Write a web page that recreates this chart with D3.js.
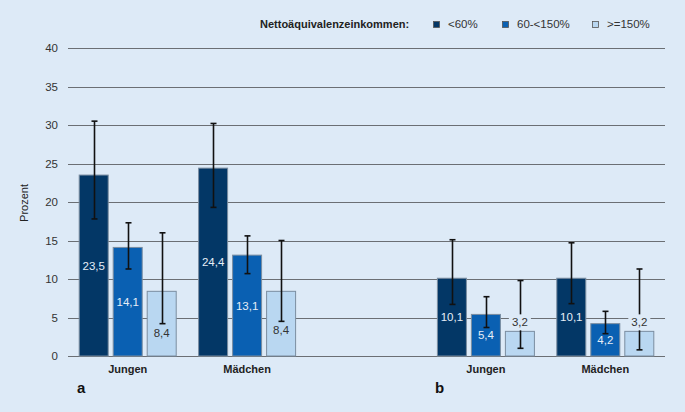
<!DOCTYPE html>
<html><head><meta charset="utf-8">
<script src="https://cdn.jsdelivr.net/npm/d3@7"></script>
<style>body{margin:0;background:#ddeaf7;}svg{display:block;font-family:"Liberation Sans",Arial,sans-serif;}</style>
</head><body>
<script>
const categories = ["Jungen","Mädchen","","Jungen","Mädchen"];
const panelLabels = ["a","b"];
const seriesNames = ["<60%","60-<150%",">=150%"];
const legendTitle = "Nettoäquivalenzeinkommen:";
const yTicks = [0,5,10,15,20,25,30,35,40];
// values per series across categories (empty slot = null)
const low60 = [23.5, 24.4, null, 10.1, 10.1];
const mid150 = [14.1, 13.1, null, 5.4, 4.2];
const high150 = [8.4, 8.4, null, 3.2, 3.2];
const low60Lo = [17.8, 19.3, null, 6.7, 6.8];
const low60Hi = [30.5, 30.2, null, 15.1, 14.7];
const mid150Lo = [11.3, 10.7, null, 3.7, 2.9];
const mid150Hi = [17.3, 15.6, null, 7.7, 5.8];
const high150Lo = [4.2, 4.5, null, 1.0, 0.8];
const high150Hi = [16.0, 15.0, null, 9.8, 11.3];

const W=685,H=412;
const colors=["#033766","#0a60b2","#b9d7f1"];
const textColors=["#e6eef7","#e6eef7","#333"];
const svg=d3.select("body").append("svg").attr("width",W).attr("height",H);
svg.append("rect").attr("width",W).attr("height",H).attr("fill","#ddeaf7");

const x=d3.scaleBand().domain(d3.range(categories.length)).range([68,665]).paddingInner(0).paddingOuter(0);
const y=d3.scaleLinear().domain([0,40]).range([356,48]);
const barW=30, gap=4;

// grid
svg.append("g").selectAll("line").data(yTicks).join("line")
 .attr("x1",68).attr("x2",665).attr("y1",d=>Math.round(y(d))+0.5).attr("y2",d=>Math.round(y(d))+0.5)
 .attr("stroke","#6b6f74").attr("stroke-width",1);
const yAxis=d3.axisLeft(y).tickValues(yTicks).tickSize(0).tickPadding(10);
const ga=svg.append("g").attr("transform","translate(68,0)").call(yAxis);
ga.select(".domain").remove();
ga.selectAll("text").attr("font-size",11.5).attr("fill","#333").attr("font-family","Liberation Sans, Arial, sans-serif");

svg.append("text").attr("transform","translate(28,203) rotate(-90)").attr("text-anchor","middle")
 .attr("font-size",11).attr("fill","#222").text("Prozent");

const series=[
 {v:low60,lo:low60Lo,hi:low60Hi},
 {v:mid150,lo:mid150Lo,hi:mid150Hi},
 {v:high150,lo:high150Lo,hi:high150Hi}];

series.forEach((s,si)=>{
  const g=svg.append("g");
  const data=s.v.map((v,i)=>({i,v,lo:s.lo[i],hi:s.hi[i]})).filter(d=>d.v!=null);
  const bx=d=>x(d.i)+x.bandwidth()/2-(1.5*barW+gap)+si*(barW+gap);
  g.selectAll("rect").data(data).join("rect")
   .attr("x",d=>bx(d)+0.5).attr("y",d=>y(d.v)).attr("width",barW-1).attr("height",d=>y(0)-y(d.v))
   .attr("fill",colors[si]).attr("stroke","#7b8da0").attr("stroke-width",1);
  data.forEach(d=>{
    const cx=bx(d)+barW/2;
    let ly;
    if(si<2) ly=(y(d.v)+y(0))/2;
    else if(y(0)-y(d.v)>40) ly=y(d.lo)+9;
    else ly=y(d.v)-9;
    if(si===2 && y(0)-y(d.v)<=40){
      svg.append("rect").attr("x",cx-11).attr("y",ly-7).attr("width",22).attr("height",14).attr("fill","#ddeaf7");
    }
    d.lx=cx; d.ly=ly;
  });
  data.forEach(d=>{
    const cx=Math.round(bx(d)+barW/2)+0.5;
    const eg=svg.append("g").attr("stroke","#111").attr("stroke-width",1.6);
    if(si===2 && y(0)-y(d.v)<=40){
      eg.append("line").attr("x1",cx).attr("x2",cx).attr("y1",y(d.hi)).attr("y2",d.ly-8);
      eg.append("line").attr("x1",cx).attr("x2",cx).attr("y1",d.ly+8).attr("y2",y(d.lo));
    } else {
      eg.append("line").attr("x1",cx).attr("x2",cx).attr("y1",y(d.hi)).attr("y2",y(d.lo));
    }
    eg.append("line").attr("x1",cx-3).attr("x2",cx+3).attr("y1",y(d.hi)).attr("y2",y(d.hi));
    eg.append("line").attr("x1",cx-3).attr("x2",cx+3).attr("y1",y(d.lo)).attr("y2",y(d.lo));
    svg.append("text").attr("x",d.lx).attr("y",d.ly).attr("dy","0.35em").attr("text-anchor","middle")
      .attr("font-size",11.5).attr("fill",textColors[si]).text(d3.format(".1f")(d.v).replace(".",","));
  });
});

svg.append("g").selectAll("text").data(categories.map((c,i)=>({c,i})).filter(d=>d.c)).join("text")
 .attr("x",d=>x(d.i)+x.bandwidth()/2).attr("y",369).attr("dy","0.35em").attr("text-anchor","middle")
 .attr("font-size",11).attr("font-weight","bold").attr("fill","#222").text(d=>d.c);

svg.append("text").attr("x",77).attr("y",393).attr("font-size",15).attr("font-weight","bold").attr("fill","#111").text(panelLabels[0]);
svg.append("text").attr("x",435).attr("y",393).attr("font-size",15).attr("font-weight","bold").attr("fill","#111").text(panelLabels[1]);

svg.append("text").attr("x",260).attr("y",24).attr("dy","0.35em").attr("font-size",11).attr("font-weight","bold").attr("fill","#222").text(legendTitle);
const legX=[433,502,592];
seriesNames.forEach((n,i)=>{
  svg.append("rect").attr("x",legX[i]+0.5).attr("y",21.5).attr("width",6).attr("height",6).attr("fill",colors[i]).attr("stroke","#555").attr("stroke-width",0.8);
  svg.append("text").attr("x",legX[i]+15).attr("y",24).attr("dy","0.35em").attr("font-size",11.5).attr("fill","#333").text(n);
});
</script>
</body></html>
